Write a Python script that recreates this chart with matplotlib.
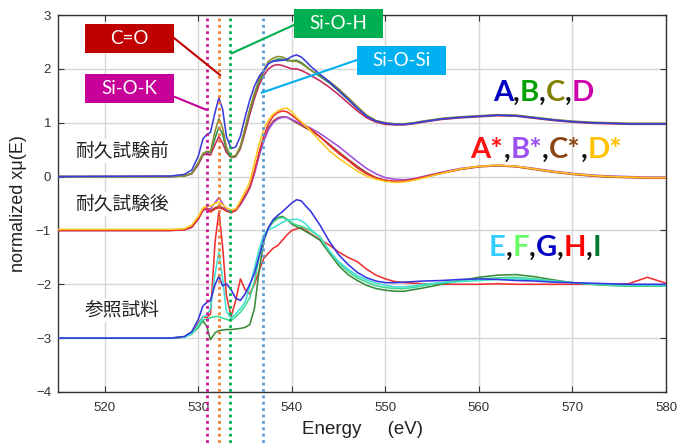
import matplotlib
matplotlib.use("Agg")
import matplotlib.pyplot as plt
from matplotlib.patches import Rectangle
from matplotlib.offsetbox import TextArea, HPacker, AnnotationBbox

plt.rcParams['font.family'] = ['Liberation Sans', 'DejaVu Sans']

# energy grid (eV) shared by all spectra
energy = [515, 527, 528.5, 529.3, 530.0, 530.5, 530.9, 531.3, 531.8, 532.2,
          532.6, 533.0, 533.5, 534.0, 534.5, 535.0, 535.5, 536.0, 536.5, 537.0,
          537.5, 538.0, 538.5, 539.0, 539.5, 540.0, 540.5, 541.0, 541.5, 542.0,
          543.0, 544.0, 545.0, 546.0, 547.0, 548.0, 549.0, 550.0, 551.0, 552.0,
          553.0, 554.0, 556.0, 558.0, 560.0, 562.0, 564.0, 566.0, 568.0, 570.0,
          572.0, 574.0, 576.0, 578.0, 580.0]

# before durability test (A-D)
a_before = [0.0, 0.01, 0.04, 0.12, 0.38, 0.70, 0.78, 0.82, 1.20, 1.46,
            1.25, 0.75, 0.52, 0.55, 0.75, 1.10, 1.42, 1.68, 1.86, 1.97,
            2.10, 2.14, 2.15, 2.16, 2.18, 2.23, 2.26, 2.22, 2.14, 2.05,
            1.90, 1.76, 1.60, 1.44, 1.27, 1.12, 1.03, 0.99, 0.97, 0.97,
            0.99, 1.02, 1.07, 1.10, 1.12, 1.14, 1.13, 1.09, 1.05, 1.02,
            1.00, 0.99, 0.98, 0.98, 0.98]
b_before = [0.0, 0.0, 0.01, 0.06, 0.25, 0.42, 0.46, 0.44, 0.72, 0.92,
            0.78, 0.50, 0.36, 0.38, 0.55, 0.88, 1.22, 1.52, 1.76, 1.95,
            2.10, 2.15, 2.18, 2.18, 2.15, 2.15, 2.16, 2.12, 2.05, 1.98,
            1.86, 1.74, 1.59, 1.43, 1.27, 1.12, 1.03, 0.99, 0.97, 0.97,
            0.99, 1.02, 1.07, 1.10, 1.12, 1.14, 1.13, 1.09, 1.05, 1.02,
            1.00, 0.99, 0.98, 0.98, 0.98]
c_before = [0.0, 0.0, 0.01, 0.06, 0.26, 0.43, 0.47, 0.46, 0.85, 1.08,
            0.90, 0.55, 0.37, 0.39, 0.56, 0.90, 1.25, 1.55, 1.80, 1.98,
            2.14, 2.20, 2.23, 2.22, 2.18, 2.14, 2.14, 2.10, 2.04, 1.98,
            1.88, 1.77, 1.63, 1.47, 1.30, 1.14, 1.04, 1.00, 0.98, 0.98,
            1.00, 1.03, 1.08, 1.11, 1.13, 1.15, 1.14, 1.10, 1.06, 1.03,
            1.01, 1.00, 0.99, 0.99, 0.99]
d_before = [0.0, 0.0, 0.01, 0.05, 0.22, 0.40, 0.42, 0.40, 0.60, 0.74,
            0.62, 0.45, 0.35, 0.37, 0.52, 0.82, 1.15, 1.45, 1.70, 1.88,
            2.00, 2.06, 2.08, 2.06, 2.03, 2.00, 2.00, 1.97, 1.93, 1.88,
            1.78, 1.66, 1.52, 1.37, 1.22, 1.09, 1.01, 0.97, 0.96, 0.96,
            0.98, 1.01, 1.06, 1.09, 1.11, 1.13, 1.12, 1.08, 1.04, 1.01,
            0.99, 0.98, 0.97, 0.97, 0.97]

# after durability test (A*-D*)
a_after = [-1.0, -1.0, -0.99, -0.94, -0.78, -0.62, -0.58, -0.66, -0.60, -0.58,
           -0.60, -0.64, -0.67, -0.62, -0.50, -0.35, -0.20, 0.10, 0.45, 0.75,
           0.98, 1.12, 1.19, 1.22, 1.20, 1.14, 1.07, 1.00, 0.94, 0.88,
           0.74, 0.58, 0.43, 0.30, 0.16, 0.05, -0.03, -0.07, -0.09, -0.08,
           -0.05, -0.01, 0.07, 0.14, 0.19, 0.21, 0.19, 0.14, 0.09, 0.05,
           0.02, 0.00, -0.01, -0.02, -0.02]
b_after = [-1.0, -1.0, -0.99, -0.94, -0.78, -0.62, -0.60, -0.60, -0.48, -0.39,
           -0.50, -0.62, -0.66, -0.62, -0.52, -0.38, -0.22, 0.05, 0.38, 0.66,
           0.87, 1.00, 1.07, 1.10, 1.10, 1.06, 1.02, 0.98, 0.94, 0.90,
           0.80, 0.68, 0.56, 0.42, 0.28, 0.15, 0.05, -0.02, -0.05, -0.06,
           -0.04, 0.00, 0.08, 0.15, 0.19, 0.21, 0.19, 0.15, 0.10, 0.06,
           0.03, 0.01, 0.00, -0.01, -0.01]
c_after = [-1.0, -1.0, -0.99, -0.94, -0.79, -0.63, -0.60, -0.63, -0.58, -0.55,
           -0.58, -0.63, -0.67, -0.63, -0.52, -0.37, -0.20, 0.08, 0.42, 0.70,
           0.90, 1.03, 1.09, 1.11, 1.10, 1.05, 1.00, 0.95, 0.90, 0.86,
           0.74, 0.60, 0.46, 0.32, 0.19, 0.07, -0.02, -0.07, -0.09, -0.09,
           -0.06, -0.02, 0.06, 0.13, 0.18, 0.20, 0.18, 0.13, 0.08, 0.04,
           0.01, -0.01, -0.02, -0.03, -0.03]
d_after = [-0.98, -0.98, -0.97, -0.90, -0.74, -0.58, -0.54, -0.55, -0.50, -0.47,
           -0.52, -0.58, -0.62, -0.60, -0.45, -0.28, -0.10, 0.25, 0.60, 0.88,
           1.05, 1.16, 1.22, 1.26, 1.27, 1.20, 1.10, 1.02, 0.94, 0.85,
           0.66, 0.48, 0.34, 0.22, 0.10, 0.01, -0.05, -0.09, -0.11, -0.10,
           -0.07, -0.03, 0.06, 0.14, 0.19, 0.21, 0.19, 0.14, 0.09, 0.05,
           0.02, 0.00, -0.01, -0.02, -0.02]

# reference samples (E-I)
e_ref = [-3.0, -3.0, -2.98, -2.92, -2.75, -2.60, -2.58, -2.45, -1.80, -1.40,
         -1.90, -2.50, -2.63, -2.55, -2.45, -2.33, -2.05, -1.70, -1.35, -1.08,
         -0.98, -0.95, -0.90, -0.85, -0.81, -0.80, -0.79, -0.82, -0.88, -0.98,
         -1.12, -1.38, -1.58, -1.72, -1.84, -1.92, -1.98, -2.02, -2.05, -2.05,
         -2.03, -2.00, -1.97, -1.95, -1.93, -1.91, -1.90, -1.92, -1.94, -1.97,
         -1.99, -2.00, -2.02, -2.02, -2.02]
f_ref = [-3.0, -3.0, -2.98, -2.92, -2.78, -2.66, -2.65, -2.62, -2.60, -2.60,
         -2.63, -2.65, -2.68, -2.60, -2.52, -2.40, -2.25, -1.95, -1.50, -1.15,
         -0.95, -0.85, -0.78, -0.76, -0.80, -0.86, -0.90, -0.92, -0.96, -1.00,
         -1.12, -1.38, -1.60, -1.76, -1.88, -1.96, -2.03, -2.06, -2.08, -2.08,
         -2.06, -2.03, -1.97, -1.93, -1.90, -1.88, -1.87, -1.90, -1.94, -1.97,
         -2.00, -2.02, -2.03, -2.03, -2.03]
g_ref = [-3.0, -3.0, -2.97, -2.88, -2.65, -2.40, -2.34, -2.30, -2.00, -1.85,
         -2.03, -1.99, -2.10, -2.26, -2.30, -2.18, -2.00, -1.80, -1.48, -1.17,
         -0.95, -0.80, -0.72, -0.65, -0.57, -0.49, -0.43, -0.45, -0.55, -0.64,
         -0.90, -1.20, -1.45, -1.63, -1.78, -1.88, -1.94, -1.97, -1.97, -1.96,
         -1.95, -1.94, -1.93, -1.91, -1.90, -1.91, -1.93, -1.94, -1.96, -1.97,
         -1.98, -1.99, -2.00, -2.00, -2.00]
h_ref = [-3.0, -3.0, -2.98, -2.90, -2.72, -2.60, -2.62, -2.55, -1.20, -0.65,
         -1.30, -2.20, -2.60, -2.30, -1.90, -2.10, -2.18, -2.00, -1.75, -1.52,
         -1.42, -1.33, -1.28, -1.18, -1.08, -1.00, -0.97, -0.95, -1.00, -1.06,
         -1.17, -1.27, -1.40, -1.50, -1.58, -1.72, -1.83, -1.90, -1.95, -1.97,
         -1.98, -1.99, -2.00, -2.00, -2.00, -1.99, -2.00, -2.00, -2.00, -2.00,
         -2.00, -2.00, -1.99, -1.87, -1.98]
i_ref = [-3.0, -3.0, -2.98, -2.92, -2.80, -2.68, -2.78, -3.03, -2.90, -2.86,
         -2.85, -2.84, -2.84, -2.83, -2.82, -2.80, -2.75, -2.45, -1.75, -1.20,
         -0.95, -0.82, -0.76, -0.74, -0.80, -0.88, -0.93, -0.97, -1.02, -1.07,
         -1.18, -1.42, -1.65, -1.82, -1.93, -2.02, -2.08, -2.11, -2.13, -2.13,
         -2.10, -2.07, -2.00, -1.93, -1.87, -1.83, -1.82, -1.86, -1.92, -1.97,
         -2.00, -2.02, -2.03, -2.03, -2.03]

# marker energies for the bond assignments (dotted lines)
bond_energy = [530.9, 532.25, 533.35, 536.9]
bond_color = ['#c8189a', '#ed7d31', '#00b050', '#5b9bd5']

fig = plt.figure(figsize=(6.77, 4.43), dpi=100)
ax = fig.add_axes([58 / 677, 51 / 443, 608 / 677, 377 / 443])

series = [
    (d_before, '#c8285a'), (b_before, '#2f8f4f'), (c_before, '#8c8c30'), (a_before, '#3c3cdc'),
    (c_after, '#a0402d'), (b_after, '#a050e0'), (a_after, '#e83030'), (d_after, '#ffc820'),
    (h_ref, '#ee3030'), (i_ref, '#3a8a3a'), (f_ref, '#40d890'), (e_ref, '#40e0d0'), (g_ref, '#3535e0'),
]
for vals, col in series:
    ax.plot(energy, vals, color=col, lw=1.15, zorder=3)

for xe, col in zip(bond_energy, bond_color):
    ax.plot([xe, xe], [2.94, -4.95], color=col, lw=2.0, linestyle=(0, (1, 1.3)),
            clip_on=False, zorder=4)

ax.set_xlim(515, 580)
ax.set_ylim(-4, 3)
ax.set_xticks([520, 530, 540, 550, 560, 570, 580])
ax.set_yticks([-4, -3, -2, -1, 0, 1, 2, 3])
ax.grid(True, color='#d6d6d6', lw=1.0)
ax.set_axisbelow(True)
ax.tick_params(direction='in', length=4, top=True, right=True, labelsize=9.5,
               labelcolor='#333333', color='#333333')
ax.tick_params(axis='x', pad=7)
ax.tick_params(axis='y', pad=5)
for sp in ax.spines.values():
    sp.set_color('#333333')
    sp.set_linewidth(1.0)

ax.set_xlabel('Energy     (eV)', fontsize=13.5, color='#222222', labelpad=5)
ax.set_ylabel('normalized xμ(E)', fontsize=13, color='#222222', labelpad=6)

# bond label boxes
boxes = [
    ('C=O', '#c00000', (517.89, 2.295), (527.40, 2.573), (532.32, 1.886)),
    ('Si-O-K', '#c8009a', (517.89, 1.367), (527.50, 1.478), (530.90, 1.237)),
    ('Si-O-H', '#00b050', (540.23, 2.573), (540.23, 2.815), (533.57, 2.289)),
    ('Si-O-Si', '#00b0f0', (546.97, 1.886), (546.97, 2.165), (536.78, 1.558)),
]
for label, col, (bx, by), p0, p1 in boxes:
    ax.plot([p0[0], p1[0]], [p0[1], p1[1]], color=col, lw=1.5, clip_on=False, zorder=5)
    ax.add_patch(Rectangle((bx, by), 9.5, 0.538, facecolor=col, edgecolor='none',
                           clip_on=False, zorder=6))
    ax.text(bx + 4.75, by + 0.269, label, color='white', fontsize=13.5, family='Lato',
            ha='center', va='center', zorder=7)

# sample group names
jp = dict(fontsize=13.5, family=['Noto Sans CJK JP', 'DejaVu Sans'], color='#222222',
          ha='center', va='center', zorder=5,
          bbox=dict(facecolor='white', edgecolor='none', pad=1))
ax.text(521.8, 0.475, '耐久試験前', **jp)
ax.text(521.8, -0.51, '耐久試験後', **jp)
ax.text(521.85, -2.48, '参照試料', **jp)


def color_label(parts, x, y):
    areas = [TextArea(t, textprops=dict(color=c, fontsize=21, fontweight='bold', family='Lato'))
             for t, c in parts]
    box = HPacker(children=areas, align='baseline', pad=0, sep=0)
    ab = AnnotationBbox(box, (x, y), xycoords='data', frameon=False,
                        box_alignment=(0.5, 0.5), zorder=8)
    ax.add_artist(ab)


k = '#111111'
color_label([('A', '#0000c0'), (',', k), ('B', '#00a000'), (',', k), ('C', '#808000'),
             (',', k), ('D', '#cc00aa')], 566.9, 1.56)
color_label([('A*', '#ff1010'), (',', k), ('B*', '#9b50f0'), (',', k), ('C*', '#8b4513'),
             (',', k), ('D*', '#ffc000')], 567.2, 0.5)
color_label([('E', '#33ccff'), (',', k), ('F', '#66ff66'), (',', k), ('G', '#0000c0'),
             (',', k), ('H', '#ff0000'), (',', k), ('I', '#007a33')], 567.07, -1.32)

fig.savefig('out.png', dpi=100)
